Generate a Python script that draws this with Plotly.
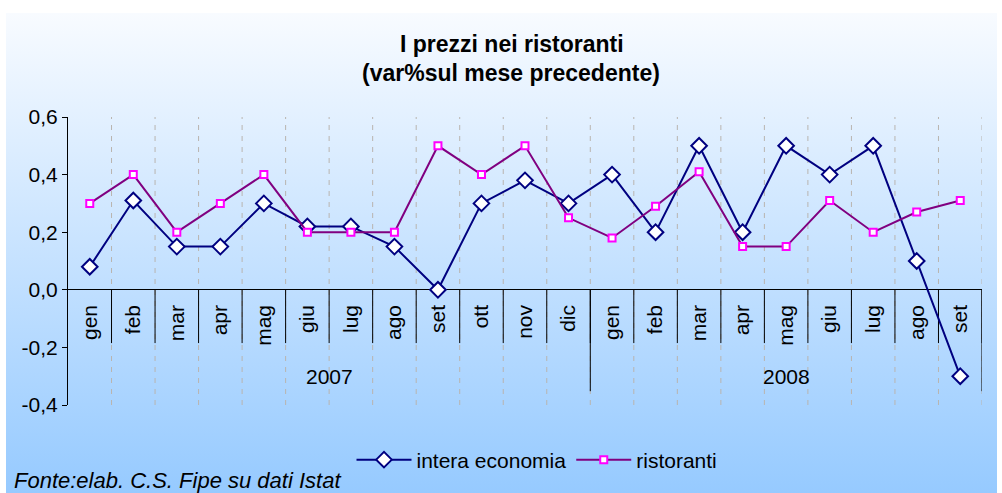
import base64
import plotly.graph_objects as go

months = ["gen", "feb", "mar", "apr", "mag", "giu", "lug", "ago", "set", "ott", "nov", "dic",
          "gen", "feb", "mar", "apr", "mag", "giu", "lug", "ago", "set"]
years = ["2007", "2008"]
year_counts = [12, 9]
intera_economia = [0.08, 0.31, 0.15, 0.15, 0.30, 0.22, 0.22, 0.15, 0.0, 0.30, 0.38, 0.30,
                   0.40, 0.20, 0.50, 0.20, 0.50, 0.40, 0.50, 0.10, -0.30]
ristoranti = [0.30, 0.40, 0.20, 0.30, 0.40, 0.20, 0.20, 0.20, 0.50, 0.40, 0.50, 0.25,
              0.18, 0.29, 0.41, 0.15, 0.15, 0.31, 0.20, 0.27, 0.31]
y_tickvals = [-0.4, -0.2, 0.0, 0.2, 0.4, 0.6]
y_ticktext = ["-0,4", "-0,2", "0,0", "0,2", "0,4", "0,6"]

W, H = 1002, 493
L, R, T, B = 68, 20, 117, 88
pw, ph = W - L - R, H - T - B

def px_x(p):
    return (p - L) / pw

def px_y(p):
    return (H - B - p) / ph

x = list(range(len(months)))

fig = go.Figure()
fig.add_trace(go.Scatter(
    x=x, y=intera_economia, name="intera economia", mode="lines+markers",
    line=dict(color="#000080", width=2),
    marker=dict(symbol="diamond", size=12, color="white", line=dict(color="#000080", width=2)),
))
fig.add_trace(go.Scatter(
    x=x, y=ristoranti, name="ristoranti", mode="lines+markers",
    line=dict(color="#800080", width=2),
    marker=dict(symbol="square", size=7, color="white", line=dict(color="#FF00FF", width=2)),
))

shapes = []
n = len(months)
for k in range(n):
    shapes.append(dict(type="line", xref="x", yref="y", x0=k + 0.5, x1=k + 0.5, y0=-0.4, y1=0.6,
                       line=dict(color="rgb(185,180,175)", width=1, dash="5px,6px"), layer="below"))
for k in range(n):
    shapes.append(dict(type="line", xref="x", yref="y", x0=k + 0.5, x1=k + 0.5, y0=0, y1=-0.185,
                       line=dict(color="black", width=1), layer="below"))
start = 0
for c in year_counts:
    start += c
    shapes.append(dict(type="line", xref="x", yref="y", x0=start - 0.5, x1=start - 0.5, y0=0, y1=-0.352,
                       line=dict(color="black", width=1), layer="below"))

svg = ('<svg xmlns="http://www.w3.org/2000/svg" width="100" height="100" preserveAspectRatio="none">'
       '<defs><linearGradient id="g" x1="0" y1="0" x2="0" y2="1">'
       '<stop offset="0" stop-color="rgb(248,251,255)"/>'
       '<stop offset="1" stop-color="rgb(150,202,255)"/>'
       '</linearGradient></defs><rect width="100" height="100" fill="url(#g)"/></svg>')
src = "data:image/svg+xml;base64," + base64.b64encode(svg.encode()).decode()

x0b, x1b, y0b, y1b = px_x(6), px_x(997), px_y(13), px_y(493)
images = [dict(source=src, xref="paper", yref="paper", x=x0b, y=y0b, sizex=x1b - x0b, sizey=y0b - y1b,
               xanchor="left", yanchor="top", sizing="stretch", layer="below")]

font = "Liberation Sans, Arial, sans-serif"
annotations = [
    dict(text="<b>I prezzi nei ristoranti</b>", xref="paper", yref="paper", x=px_x(512), y=px_y(44),
         showarrow=False, font=dict(size=23, color="black", family=font), xanchor="center", yanchor="middle"),
    dict(text="<b>(var%sul mese precedente)</b>", xref="paper", yref="paper", x=px_x(511), y=px_y(73),
         showarrow=False, font=dict(size=23, color="black", family=font), xanchor="center", yanchor="middle"),
    dict(text="<i>Fonte:elab. C.S. Fipe su dati Istat</i>", xref="paper", yref="paper", x=px_x(12), y=px_y(480),
         showarrow=False, font=dict(size=22, color="black", family=font), xanchor="left", yanchor="middle"),
]
start = 0
for yr, c in zip(years, year_counts):
    annotations.append(dict(text=yr, xref="x", yref="y", x=start + (c - 1) / 2, y=-0.30, showarrow=False,
                            font=dict(size=21, color="black", family=font), xanchor="center", yanchor="middle"))
    start += c

fig.update_layout(
    width=W, height=H,
    margin=dict(l=L, r=R, t=T, b=B, pad=0),
    paper_bgcolor="white", plot_bgcolor="rgba(0,0,0,0)",
    font=dict(family=font, size=21, color="black"),
    shapes=shapes, images=images, annotations=annotations,
    showlegend=True,
    legend=dict(orientation="h", x=px_x(537), y=px_y(460), xanchor="center", yanchor="middle",
                bgcolor="rgba(0,0,0,0)", font=dict(size=21, family=font), itemwidth=55),
    xaxis=dict(range=[-0.5, n - 0.5], tickmode="array", tickvals=x, ticktext=months, tickangle=-90,
               showgrid=False, zeroline=False, showline=False, ticks="", anchor="free", position=0.4,
               ticklabelstandoff=10, tickfont=dict(size=21)),
    yaxis=dict(range=[-0.4, 0.6], tickmode="array", tickvals=y_tickvals, ticktext=y_ticktext,
               showgrid=False, zeroline=True, zerolinecolor="black", zerolinewidth=1,
               showline=True, linecolor="black", linewidth=1, ticks="outside", ticklen=5,
               tickcolor="black", tickfont=dict(size=21)),
)

fig.write_html("out.html", config={"displayModeBar": False},
               post_script="document.body.style.margin='0';document.body.style.overflow='hidden';")
